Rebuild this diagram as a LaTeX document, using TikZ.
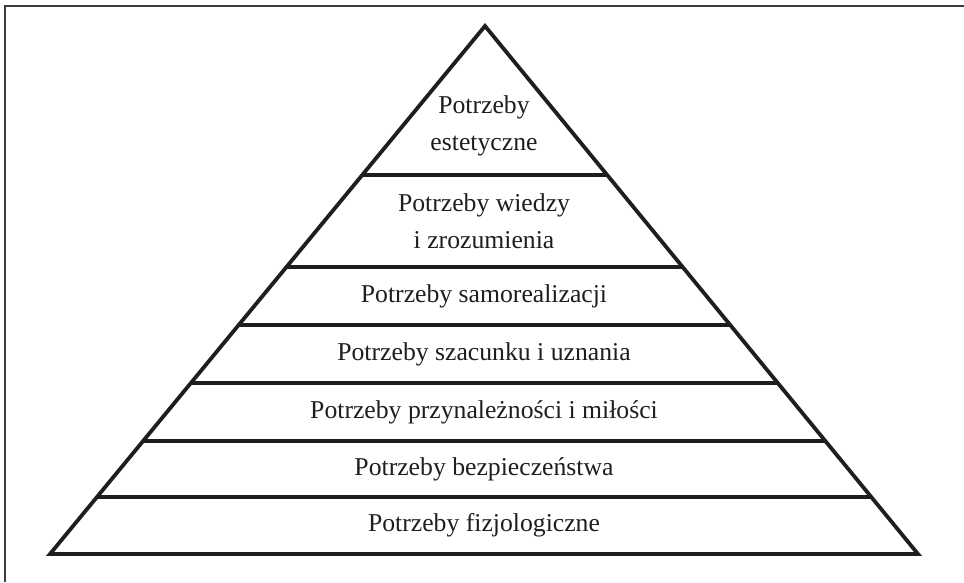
\documentclass[tikz,border=0pt]{standalone}
\usepackage{fontspec}
\setmainfont{Liberation Serif}
\usepackage{tikz}
\usetikzlibrary{calc, positioning}
\definecolor{framegray}{RGB}{60, 60, 60}
\definecolor{inkblack}{RGB}{30, 30, 30}

\begin{document}
\begin{tikzpicture}[
    x=1pt, y=-1pt,
    tier/.style={line width=3.8pt, draw=inkblack},
    level/.style={align=center, inner sep=0pt, text=inkblack,
                  font=\fontsize{25.7}{37}\selectfont}
]
    \useasboundingbox (0,0) rectangle (964,582);

    % frame (top and left only)
    \draw[line width=1.6pt, framegray] (964,6) -- (5,6) -- (5,582);

    % pyramid outline
    \coordinate (apex) at (485,26);
    \coordinate (bl) at (50,554);
    \coordinate (br) at (918,554);
    \draw[tier, line join=miter] (apex) -- (bl) -- (br) -- cycle;

    % dividing lines
    \foreach \t in {0.2822, 0.4564, 0.5663, 0.6761, 0.7860, 0.8920}
        \draw[tier] ($(apex)!\t!(bl)$) -- ($(apex)!\t!(br)$);

    % labels
    \node[level] (aesthetic) at (484,126) {Potrzeby\\estetyczne};
    \node[level] (knowledge) at (484,221) {Potrzeby wiedzy\\i zrozumienia};
    \node[level] (selfreal) at (484,296) {Potrzeby samorealizacji};
    \node[level] (esteem) at (484,354) {Potrzeby szacunku i uznania};
    \node[level] (belonging) at (484,412) {Potrzeby przynależności i miłości};
    \node[level] (safety) at (484,469) {Potrzeby bezpieczeństwa};
    \node[level] (physio) at (484,525) {Potrzeby fizjologiczne};
\end{tikzpicture}
\end{document}
